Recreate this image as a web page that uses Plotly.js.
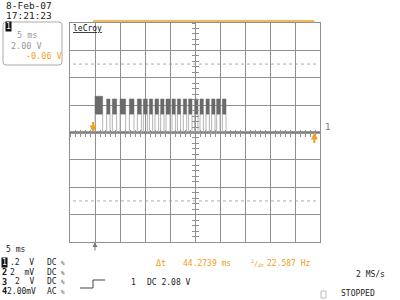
<!DOCTYPE html>
<html><head><meta charset="utf-8">
<script src="https://cdn.plot.ly/plotly-3.0.1.min.js"></script>
<style>body{margin:0;background:#fff}#c{width:400px;height:300px}</style>
</head><body><div id="c"></div>
<script>
// ---- data (time in ms, level in V) ----
const pulseStart  = [0.0, 2.33, 3.47, 5.0, 6.87, 8.47, 9.67, 10.87, 12.0, 13.13, 14.2, 15.4, 16.47, 17.67, 18.73, 19.93, 21.0, 22.2, 23.33, 24.33, 25.47];
const pulseEnd    = [1.53, 3.0, 4.33, 6.13, 7.8, 9.27, 10.47, 11.53, 12.73, 13.8, 15.0, 16.07, 17.13, 18.33, 19.4, 20.6, 21.67, 22.87, 24.0, 25.0, 26.2];
const pulseTop    = [2.65, 2.45, 2.45, 2.45, 2.45, 2.45, 2.45, 2.45, 2.45, 2.45, 2.45, 2.45, 2.45, 2.45, 2.45, 2.45, 2.45, 2.45, 2.45, 2.45, 2.45];
const pulseBottom = [1.35, 1.35, 1.35, 1.35, 1.35, 1.35, 1.35, 1.35, 1.35, 1.35, 1.35, 1.35, 1.35, 1.35, 1.35, 1.35, 1.35, 1.35, 1.35, 1.35, 1.35];
const baselineTime  = [-5, 45];
const baselineLevel = [0, 0];
const cursorTimes   = [-0.4, 43.87];
const triggerTime   = 0;
const triggerLevel  = 2.08;
const markerLevels  = [5, -5];
const timeRange = [-5, 45];
const voltRange = [-8, 8];

const ORANGE = '#f0a020';
const GRID = '#8f8f8f';
const MONO = 'DejaVu Sans Mono, monospace';

// ---- traces built from data ----
const bandX = [], bandY = [], edgeX = [], edgeY = [];
pulseStart.forEach((s, i) => {
  const e = pulseEnd[i], hi = pulseTop[i], lo = pulseBottom[i];
  bandX.push(s, e, e, s, s, null); bandY.push(lo, lo, hi, hi, lo, null);
  edgeX.push(s, s, e, e, null); edgeY.push(0, lo, lo, 0, null);
});

const traces = [
  {x: baselineTime, y: baselineLevel, mode: 'lines', line: {color: '#7a7a7a', width: 2.5}, hoverinfo: 'skip'},
  {x: edgeX, y: edgeY, mode: 'lines', line: {color: '#b4b4b4', width: 1}, connectgaps: false, hoverinfo: 'skip'},
  {x: bandX, y: bandY, mode: 'lines', fill: 'toself', fillcolor: '#6a6a6a', line: {color: '#6a6a6a', width: 0.5}, connectgaps: false, hoverinfo: 'skip'},
  {x: [timeRange[0] - 0.5, timeRange[1] + 0.5], y: [triggerLevel, triggerLevel], mode: 'markers', cliponaxis: false,
   marker: {symbol: ['triangle-right', 'triangle-left'], size: 6, color: '#777'}, hoverinfo: 'skip'},
  {x: [20], y: [0], xaxis: 'x2', yaxis: 'y2', mode: 'markers', marker: {opacity: 0}, hoverinfo: 'skip'},
  {x: [20], y: [0], xaxis: 'x3', yaxis: 'y3', mode: 'markers', marker: {opacity: 0}, hoverinfo: 'skip'}
];

// pixel -> paper helpers (plot area 70..320 x 23..242)
const L = 70, R = 320, T = 23, B = 242;
const px = x => (x - L) / (R - L);
const py = y => (B - y) / (B - T);

function txt(x, y, text, opt) {
  opt = opt || {};
  return Object.assign({xref: 'paper', yref: 'paper', x: px(x), y: py(y), text: text, showarrow: false,
    xanchor: opt.anchor || 'left', yanchor: 'middle',
    font: {family: MONO, size: opt.size || 8.5, color: opt.color || '#222'}}, opt.extra || {});
}

const annotations = [
  txt(4, 5.5, '8-Feb-07', {size: 9.5}),
  txt(4, 15.5, '17:21:23', {size: 9.5}),
  txt(5, 26, '1', {size: 8, color: '#fff', extra: {bgcolor: '#111', borderpad: 0}}),
  txt(15, 35, '5 ms', {color: '#999'}),
  txt(9, 46, '2.00 V', {color: '#999'}),
  txt(24, 56, '-0.06 V', {color: ORANGE}),
  txt(70.5, 28, '<u>leCroy</u>', {size: 8, color: '#111'}),
  txt(4, 249, '5 ms', {size: 8}),
  txt(0.5, 262, '1', {size: 8, color: '#fff', extra: {bgcolor: '#111', borderpad: 0}}),
  txt(0, 272, '<b>2</b>', {size: 8.5, color: '#111'}),
  txt(0, 281.5, '<b>3</b>', {size: 8.5, color: '#111'}),
  txt(0, 291, '<b>4</b>', {size: 8.5, color: '#111'}),
  txt(36, 262, '.2  V', {anchor: 'right', size: 8}),
  txt(36, 272, '2  mV', {anchor: 'right', size: 8}),
  txt(36, 281.5, '2  V', {anchor: 'right', size: 8}),
  txt(38, 291, '2.00mV', {anchor: 'right', size: 8}),
  txt(45, 262, 'DC', {size: 8}), txt(45, 272, 'DC', {size: 8}), txt(45, 281.5, 'DC', {size: 8}), txt(45, 291, 'AC', {size: 8}),
  txt(59, 262, '%', {size: 6, color: '#555'}),
  txt(59, 272, '%', {size: 6, color: '#555'}),
  txt(59, 281.5, '%', {size: 6, color: '#555'}),
  txt(59, 291, '%', {size: 6, color: '#555'}),
  txt(154, 263, 'Δt', {color: ORANGE}),
  txt(181, 263, '44.2739 ms', {color: ORANGE, size: 8}),
  txt(249, 263, '<sup>1</sup>/<sub>Δt</sub>', {size: 7, color: ORANGE}),
  txt(265, 263, '22.587 Hz', {color: ORANGE, size: 8}),
  txt(129, 282, '1', {size: 8}),
  txt(145, 282, 'DC 2.08 V', {size: 8}),
  txt(354, 274, '2 MS/s', {size: 8}),
  txt(339, 293.5, 'STOPPED', {size: 8}),
  txt(323, 127, '1', {size: 9, color: '#777'}),
  // cursors and trigger arrows (data coordinates)
  {x: cursorTimes[0], y: 0, xref: 'x', yref: 'y', text: '', showarrow: true, ax: 0, ay: -12,
   arrowcolor: ORANGE, arrowwidth: 2, arrowhead: 2, arrowsize: 0.7},
  {x: cursorTimes[1], y: 0, xref: 'x', yref: 'y', text: '', showarrow: true, ax: 0, ay: 12,
   arrowcolor: ORANGE, arrowwidth: 2, arrowhead: 2, arrowsize: 0.7},
  {x: triggerTime, y: voltRange[0], xref: 'x', yref: 'y', text: '', showarrow: true, ax: 0, ay: 10,
   arrowcolor: '#777', arrowwidth: 1, arrowhead: 2, arrowsize: 1}
];

const shapes = [
  // info box
  {type: 'path', xref: 'paper', yref: 'paper', line: {color: '#aaa', width: 1},
   path: `M ${px(6)} ${py(22)} L ${px(59)} ${py(22)} Q ${px(62)} ${py(22)} ${px(62)} ${py(25)} L ${px(62)} ${py(62)} Q ${px(62)} ${py(65)} ${px(59)} ${py(65)} L ${px(6)} ${py(65)} Q ${px(3)} ${py(65)} ${px(3)} ${py(62)} L ${px(3)} ${py(25)} Q ${px(3)} ${py(22)} ${px(6)} ${py(22)} Z`},
  // cursor span bar on top
  {type: 'line', xref: 'x', yref: 'paper', x0: cursorTimes[0], x1: cursorTimes[1], y0: py(21), y1: py(21),
   line: {color: ORANGE, width: 1.5}},
  // trigger-type icon
  {type: 'path', xref: 'paper', yref: 'paper', line: {color: '#444', width: 1},
   path: `M ${px(80)} ${py(288)} L ${px(93)} ${py(288)} L ${px(93)} ${py(280)} L ${px(105)} ${py(280)}`},
  // stopped box
  {type: 'rect', xref: 'paper', yref: 'paper', x0: px(321), x1: px(326), y0: py(298), y1: py(291),
   line: {color: '#bbb', width: 1}}
];
markerLevels.forEach(v => shapes.push({type: 'line', xref: 'x', yref: 'y', x0: timeRange[0] + 0.6, x1: timeRange[1] - 0.6,
  y0: v, y1: v, line: {color: '#aaa', width: 1, dash: 'dot'}, layer: 'below'}));

const tickAxisX = side => ({overlaying: 'x', anchor: 'free', position: 0.5, range: timeRange, dtick: 1, tick0: 0,
  ticks: side, ticklen: 3, tickcolor: GRID, tickwidth: 1, showticklabels: false, showgrid: false, zeroline: false, showline: false, fixedrange: true});
const tickAxisY = side => ({overlaying: 'y', anchor: 'free', position: 0.5, range: voltRange, dtick: 0.4, tick0: 0,
  ticks: side, ticklen: 3, tickcolor: GRID, tickwidth: 1, showticklabels: false, showgrid: false, zeroline: false, showline: false, fixedrange: true});

const layout = {
  width: 400, height: 300,
  margin: {l: L, r: 400 - R, t: T, b: 300 - B, pad: 0},
  paper_bgcolor: '#fff', plot_bgcolor: '#fff', showlegend: false,
  xaxis: {range: timeRange, dtick: 5, tick0: 0, showgrid: true, gridcolor: GRID, gridwidth: 1, zeroline: false,
          showline: true, mirror: true, linecolor: GRID, linewidth: 1, ticks: '', showticklabels: false, fixedrange: true},
  yaxis: {range: voltRange, dtick: 2, tick0: 0, showgrid: true, gridcolor: GRID, gridwidth: 1, zeroline: false,
          showline: true, mirror: true, linecolor: GRID, linewidth: 1, ticks: '', showticklabels: false, fixedrange: true},
  xaxis2: tickAxisX('inside'), xaxis3: tickAxisX('outside'),
  yaxis2: tickAxisY('inside'), yaxis3: tickAxisY('outside'),
  annotations: annotations, shapes: shapes
};

Plotly.newPlot('c', traces, layout, {staticPlot: true, displayModeBar: false});
</script></body></html>
